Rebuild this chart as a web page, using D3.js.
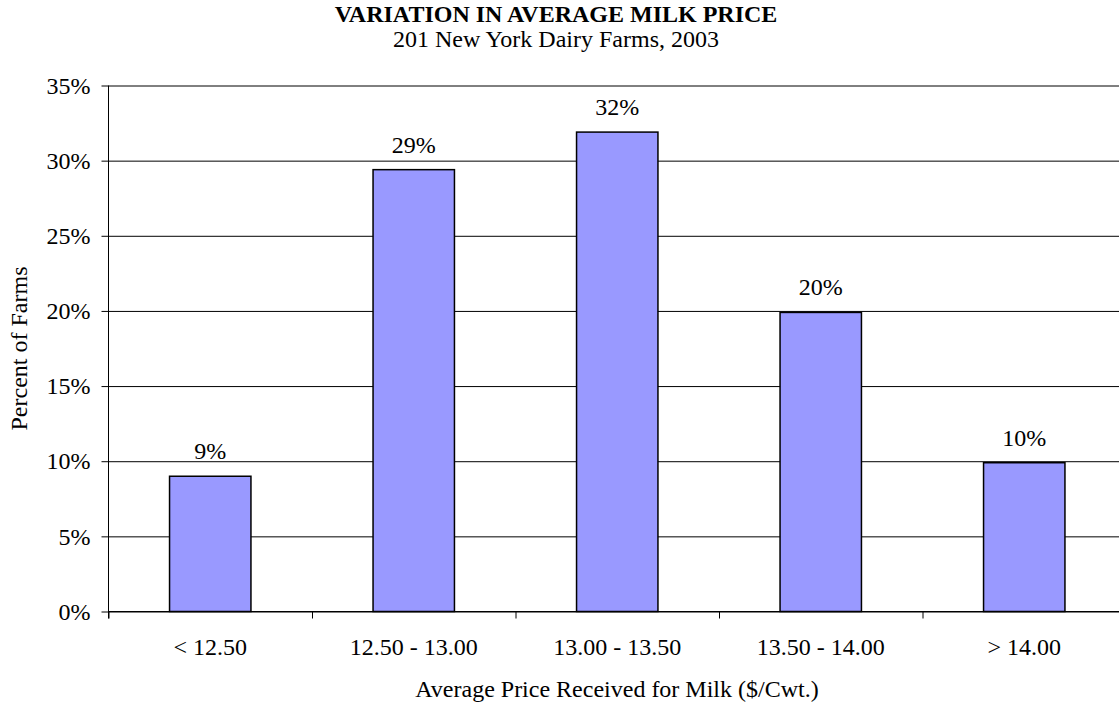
<!DOCTYPE html>
<html>
<head>
<meta charset="utf-8">
<script src="https://cdn.jsdelivr.net/npm/d3@7"></script>
<style>
  html, body { margin: 0; padding: 0; background: #fff; }
  svg { display: block; font-family: "Liberation Serif", "Times New Roman", serif; }
</style>
</head>
<body>
<div id="chart"></div>
<script>
// price classes on the x axis
const categories = ['< 12.50', '12.50 - 13.00', '13.00 - 13.50', '13.50 - 14.00', '> 14.00'];
// percent of farms in each class
const percentFarms = [9.0, 29.4, 31.9, 19.9, 9.9];
// y axis ticks, in percent
const yTicks = [0, 5, 10, 15, 20, 25, 30, 35];

const width = 1119;
const height = 704;
const plot = { left: 108.5, right: 1126, top: 85.5, bottom: 611.5 };
const serif = '"Liberation Serif", "Times New Roman", serif';

const svg = d3.select('#chart')
  .append('svg')
  .attr('width', width)
  .attr('height', height);

const x = d3.scaleBand()
  .domain(categories)
  .range([plot.left, plot.right])
  .paddingInner(0.6)
  .paddingOuter(0.3);

const y = d3.scaleLinear()
  .domain([0, 35])
  .range([plot.bottom, plot.top]);

// gridlines
svg.append('g')
  .attr('transform', `translate(${plot.left},0)`)
  .call(d3.axisLeft(y).tickValues(yTicks).tickSize(-(plot.right - plot.left)).tickFormat(''))
  .call(g => g.select('.domain').remove())
  .call(g => g.selectAll('line').attr('stroke', '#000').attr('stroke-width', 1));

// bars
svg.selectAll('rect.bar')
  .data(percentFarms)
  .enter()
  .append('rect')
  .attr('class', 'bar')
  .attr('x', (d, i) => x(categories[i]))
  .attr('y', d => y(d))
  .attr('width', x.bandwidth())
  .attr('height', d => y(0) - y(d))
  .attr('fill', '#9999FF')
  .attr('stroke', '#000')
  .attr('stroke-width', 1.5);

// value labels above bars
svg.selectAll('text.val')
  .data(percentFarms)
  .enter()
  .append('text')
  .attr('class', 'val')
  .attr('x', (d, i) => x(categories[i]) + x.bandwidth() / 2)
  .attr('y', d => y(d) - 17)
  .attr('text-anchor', 'middle')
  .style('font-size', '24px')
  .text(d => d3.format('.0f')(d) + '%');

// y axis
svg.append('g')
  .attr('transform', `translate(${plot.left},0)`)
  .call(d3.axisLeft(y).tickValues(yTicks).tickSize(7).tickPadding(11).tickFormat(d => d + '%'))
  .attr('font-family', serif)
  .attr('font-size', 24)
  .call(g => g.select('.domain').attr('d', `M0,${plot.top}V${plot.bottom + 7}`).attr('stroke', '#000'))
  .call(g => g.selectAll('line').attr('stroke', '#000'))
  .call(g => g.selectAll('text').attr('fill', '#000'));

// x axis: ticks between classes
const xEdges = d3.scaleLinear().domain([0, categories.length]).range([plot.left, plot.right]);
svg.append('g')
  .attr('transform', `translate(0,${plot.bottom})`)
  .call(d3.axisBottom(xEdges).ticks(categories.length).tickSize(7).tickFormat(''))
  .call(g => g.select('.domain').attr('d', `M${plot.left},0H${plot.right}`).attr('stroke', '#000'))
  .call(g => g.selectAll('line').attr('stroke', '#000'));

// x axis: class labels
svg.append('g')
  .attr('transform', `translate(0,${plot.bottom})`)
  .call(d3.axisBottom(x).tickSize(0).tickPadding(26))
  .attr('font-family', serif)
  .attr('font-size', 24)
  .call(g => g.select('.domain').remove())
  .call(g => g.selectAll('text').attr('fill', '#000'));

// titles
svg.append('text')
  .attr('x', 556)
  .attr('y', 22)
  .attr('text-anchor', 'middle')
  .style('font-size', '24px')
  .style('font-weight', 'bold')
  .text('VARIATION IN AVERAGE MILK PRICE');

svg.append('text')
  .attr('x', 556)
  .attr('y', 47)
  .attr('text-anchor', 'middle')
  .style('font-size', '24px')
  .text('201 New York Dairy Farms, 2003');

svg.append('text')
  .attr('x', 617)
  .attr('y', 697)
  .attr('text-anchor', 'middle')
  .style('font-size', '24px')
  .text('Average Price Received for Milk ($/Cwt.)');

svg.append('text')
  .attr('transform', `translate(27,${(plot.top + plot.bottom) / 2}) rotate(-90)`)
  .attr('text-anchor', 'middle')
  .style('font-size', '24px')
  .text('Percent of Farms');
</script>
</body>
</html>
